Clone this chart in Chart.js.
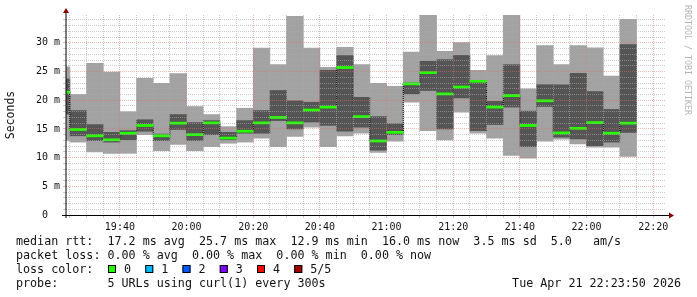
<!DOCTYPE html>
<html>
<head>
<meta charset="utf-8">
<script src="https://cdn.jsdelivr.net/npm/chart.js@4.4.0/dist/chart.umd.min.js"></script>
<style>
  html, body { margin: 0; padding: 0; background: #fff; }
  canvas { display: block; }
</style>
</head>
<body>
<canvas id="smokeChart" width="697" height="297"></canvas>
<script>
// 5 minute slots (start time of each RRD step)
const slots = ['19:20', '19:25', '19:30', '19:35', '19:40', '19:45', '19:50', '19:55',
    '20:00', '20:05', '20:10', '20:15', '20:20', '20:25', '20:30', '20:35', '20:40', '20:45', '20:50', '20:55',
    '21:00', '21:05', '21:10', '21:15', '21:20', '21:25', '21:30', '21:35', '21:40', '21:45', '21:50', '21:55',
    '22:00', '22:05', '22:10'];

// rtt in ms: smallest, 2nd, median, 4th, largest of the 5 pings
const minRtt = [13.0, 12.7, 11.0, 10.75, 10.75, 14.0, 11.2, 12.3, 11.2, 11.9, 12.5, 12.7, 13.4, 11.9, 13.7, 15.3, 11.9, 13.8,
    14.25, 10.9, 12.85, 19.65, 14.7, 13.1, 17.9, 14.25, 13.4, 10.4, 9.9, 12.85, 13.2, 12.4, 11.8, 11.8, 10.2];
const lowRtt = [17.6, 13.8, 12.97, 12.7, 13.1, 14.6, 12.97, 14.9, 12.97, 14.0, 13.1, 14.25, 14.25, 16.45, 15.0, 16.2, 15.6, 14.6,
    15.3, 11.3, 14.0, 21.1, 21.7, 15.0, 20.4, 14.7, 15.75, 18.8, 11.9, 18.9, 13.55, 13.25, 12.1, 12.7, 14.4];
const medianRtt = [21.4, 14.9, 13.8, 13.1, 14.25, 15.6, 13.8, 16.0, 14.0, 16.05, 13.4, 14.6, 16.05, 17.0, 16.05, 18.3, 18.8, 25.7,
    17.15, 12.9, 14.4, 22.85, 24.8, 21.1, 22.3, 23.3, 18.8, 20.8, 15.6, 19.9, 14.3, 15.1, 16.1, 14.25, 16.0];
const highRtt = [23.7, 18.2, 15.75, 14.4, 14.7, 16.6, 14.1, 17.5, 16.1, 16.45, 14.4, 16.45, 18.2, 21.7, 19.9, 19.65, 25.2, 27.8,
    20.5, 17.15, 15.9, 23.0, 26.8, 27.1, 27.8, 23.4, 19.8, 26.2, 18.1, 22.7, 22.7, 24.7, 21.5, 18.4, 29.7];
const maxRtt = [25.8, 21.0, 26.45, 24.9, 18.0, 23.8, 22.96, 24.65, 18.9, 17.5, 15.4, 18.6, 29.1, 26.2, 34.6, 29.1, 25.75, 29.2,
    26.2, 22.96, 22.4, 28.4, 34.8, 28.5, 30.05, 25.2, 27.8, 34.8, 22.0, 29.5, 26.2, 29.5, 29.15, 24.2, 34.1];

const yTickLabels = ['0  ', '5 m', '10 m', '15 m', '20 m', '25 m', '30 m'];
const timeLabels = ['19:40', '20:00', '20:20', '20:40', '21:00', '21:20', '21:40', '22:00', '22:20'];
const lossLabels = ['0', '1', '2', '3', '4', '5/5'];
const lossColors = ['#26ff00', '#00b8ff', '#0059ff', '#7e00ff', '#ff0000', '#a10000'];
const legendLines = [
    'median rtt:  17.2 ms avg  25.7 ms max  12.9 ms min  16.0 ms now  3.5 ms sd  5.0   am/s',
    'packet loss: 0.00 % avg  0.00 % max  0.00 % min  0.00 % now',
    'loss color:',
    'probe:       5 URLs using curl(1) every 300s'
];
const stamp = 'Tue Apr 21 22:23:50 2026';

const startMin = 19 * 60 + 23 + 50 / 60;
const endMin = 22 * 60 + 23 + 50 / 60;
const yMax = 34.85;

function toMin(s) {
    const p = s.split(':');
    return parseInt(p[0], 10) * 60 + parseInt(p[1], 10);
}
function fmtTime(v) {
    const h = Math.floor(v / 60), m = Math.round(v % 60);
    return String(h).padStart(2, '0') + ':' + String(m).padStart(2, '0');
}

const centers = slots.map(s => toMin(s) + 2.5);
const xGrid = [];
for (let t = Math.ceil(startMin / 5) * 5; t <= endMin; t += 5) xGrid.push(t);
const yGrid = [];
for (let v = 0; v < yMax; v++) yGrid.push(v);

const minorGrid = 'rgba(170,170,170,0.6)';
const majorGrid = 'rgba(230,110,110,0.5)';
const mono = '"DejaVu Sans Mono", monospace';

const decorations = {
    id: 'decorations',
    afterDraw(chart) {
        const ctx = chart.ctx;
        const a = chart.chartArea;
        ctx.save();

        // axes
        ctx.strokeStyle = '#000';
        ctx.lineWidth = 1;
        ctx.beginPath();
        ctx.moveTo(a.left, a.bottom + 3);
        ctx.lineTo(a.left, a.top - 2);
        ctx.stroke();
        ctx.beginPath();
        ctx.moveTo(a.left - 4, a.bottom + 0.5);
        ctx.lineTo(a.right + 3, a.bottom + 0.5);
        ctx.stroke();

        ctx.fillStyle = '#8b0000';
        ctx.beginPath();
        ctx.moveTo(a.left, a.top - 7);
        ctx.lineTo(a.left - 3, a.top - 2);
        ctx.lineTo(a.left + 3, a.top - 2);
        ctx.closePath();
        ctx.fill();
        ctx.beginPath();
        ctx.moveTo(a.right + 8, a.bottom + 0.5);
        ctx.lineTo(a.right + 3, a.bottom - 2.5);
        ctx.lineTo(a.right + 3, a.bottom + 3.5);
        ctx.closePath();
        ctx.fill();

        // unit label
        ctx.fillStyle = '#111';
        ctx.font = '11.5px ' + mono;
        ctx.textAlign = 'center';
        ctx.textBaseline = 'middle';
        ctx.save();
        ctx.translate(11, (a.top + a.bottom) / 2);
        ctx.rotate(-Math.PI / 2);
        ctx.fillText('Seconds', 0, 0);
        ctx.restore();

        // watermark
        ctx.save();
        ctx.fillStyle = '#b4b4b4';
        ctx.font = '8.3px ' + mono;
        ctx.translate(687, 60);
        ctx.rotate(Math.PI / 2);
        ctx.fillText('RRDTOOL / TOBI OETIKER', 0, 0);
        ctx.restore();

        // legend
        ctx.font = '11.7px ' + mono;
        ctx.textAlign = 'left';
        ctx.textBaseline = 'alphabetic';
        ctx.fillStyle = '#111';
        legendLines.forEach((line, i) => ctx.fillText(line, 16, 245 + i * 14));

        lossLabels.forEach((lbl, i) => {
            const bx = 108 + i * 37.25;
            ctx.fillStyle = lossColors[i];
            ctx.fillRect(bx, 265, 8, 8);
            ctx.strokeStyle = '#000';
            ctx.strokeRect(bx + 0.5, 265.5, 7, 7);
            ctx.fillStyle = '#111';
            ctx.fillText(lbl, bx + 16, 273);
        });

        ctx.textAlign = 'right';
        ctx.fillText(stamp, 681, 287);

        ctx.restore();
    }
};

new Chart(document.getElementById('smokeChart').getContext('2d'), {
    type: 'bar',
    data: {
        datasets: [{
            label: 'median',
            data: centers.map((x, i) => ({x: x, y: [medianRtt[i] - 0.18, medianRtt[i] + 0.18]})),
            backgroundColor: lossColors[0],
            order: 1
        }, {
            type: 'line',
            label: 'median step',
            data: centers.map((x, i) => ({x: x, y: medianRtt[i]})),
            stepped: 'middle',
            borderColor: '#000',
            borderWidth: 1,
            borderDash: [1, 1],
            pointRadius: 0,
            fill: false,
            order: 2
        }, {
            label: 'inner smoke',
            data: centers.map((x, i) => ({x: x, y: [lowRtt[i], highRtt[i]]})),
            backgroundColor: '#555555',
            order: 3
        }, {
            label: 'outer smoke',
            data: centers.map((x, i) => ({x: x, y: [minRtt[i], maxRtt[i]]})),
            backgroundColor: '#a2a2a2',
            order: 4
        }]
    },
    options: {
        responsive: false,
        animation: false,
        layout: { padding: { top: 15, right: 31, bottom: 0, left: 0 } },
        plugins: { legend: { display: false }, tooltip: { enabled: false } },
        datasets: {
            bar: { grouped: false, barPercentage: 1, categoryPercentage: 1, borderWidth: 0, clip: 0 },
            line: { clip: 0 }
        },
        scales: {
            x: {
                type: 'linear',
                min: startMin,
                max: endMin,
                offset: false,
                afterBuildTicks: s => { s.ticks = xGrid.map(v => ({value: v})); },
                afterFit: s => { s.height = 82; },
                grid: {
                    offset: false,
                    z: 1,
                    tickLength: 3,
                    color: c => (c.tick && c.tick.value % 20 === 0) ? majorGrid : minorGrid,
                    tickColor: c => (c.tick && c.tick.value % 20 === 0) ? majorGrid : minorGrid
                },
                border: { display: false, dash: [1, 1] },
                ticks: {
                    autoSkip: false,
                    maxRotation: 0,
                    padding: 3,
                    color: '#111',
                    font: { family: mono, size: 10 },
                    callback: v => timeLabels.indexOf(fmtTime(v)) >= 0 ? fmtTime(v) : ''
                }
            },
            y: {
                type: 'linear',
                min: 0,
                max: yMax,
                stacked: false,
                afterBuildTicks: s => { s.ticks = yGrid.map(v => ({value: v})); },
                afterFit: s => { s.width = 66; },
                grid: {
                    z: 1,
                    tickLength: 3,
                    color: c => !c.tick || c.tick.value === 0 ? 'rgba(0,0,0,0)' : (c.tick.value % 5 === 0 ? majorGrid : minorGrid),
                    tickColor: c => !c.tick || c.tick.value === 0 ? 'rgba(0,0,0,0)' : (c.tick.value % 5 === 0 ? majorGrid : minorGrid)
                },
                border: { display: false, dash: [1, 1] },
                ticks: {
                    autoSkip: false,
                    padding: 3,
                    color: '#111',
                    font: { family: mono, size: 10 },
                    callback: v => v % 5 === 0 ? yTickLabels[v / 5] : ''
                }
            }
        }
    },
    plugins: [decorations]
});
</script>
</body>
</html>
